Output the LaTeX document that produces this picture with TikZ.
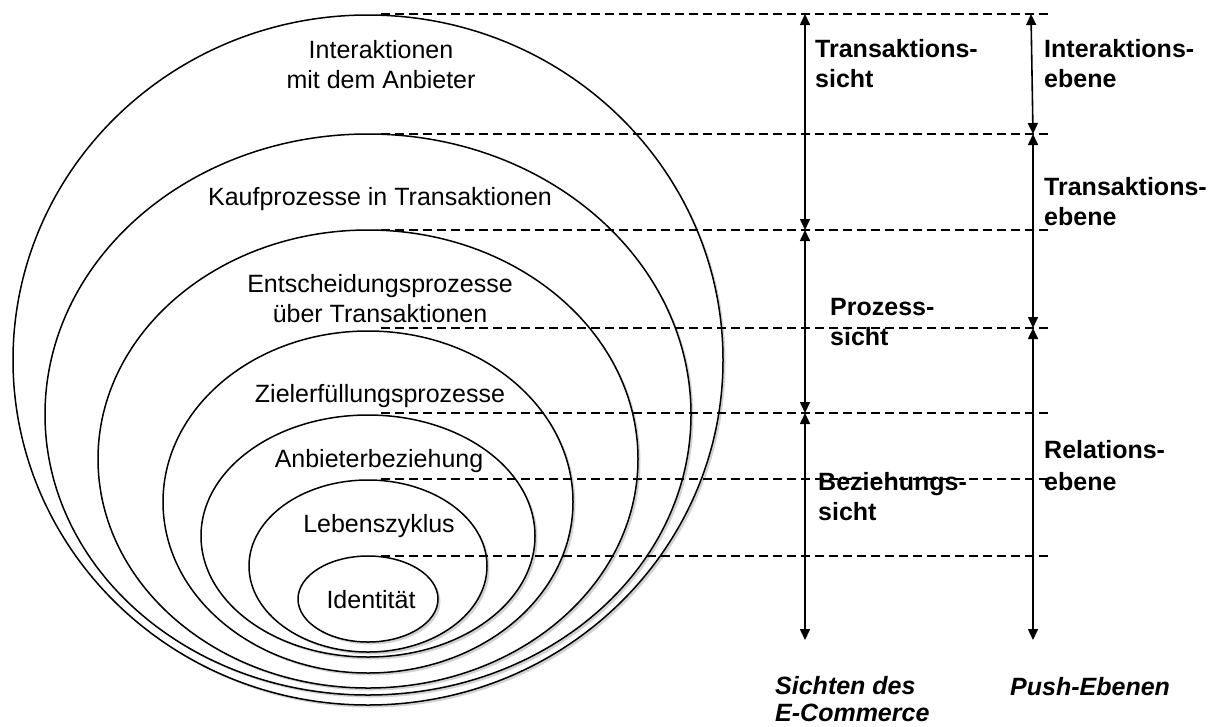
\documentclass[tikz,border=0pt]{standalone}
\usepackage{fontspec}
\setmainfont{Liberation Sans}
\usetikzlibrary{shapes.geometric,shadows,arrows.meta}

\begin{document}
\begin{tikzpicture}[x=1pt,y=-1pt,
  ring/.style={ellipse, draw=black, line width=1.5pt, fill=white, inner sep=0pt,
    drop shadow={shadow xshift=2.5pt, shadow yshift=-2.5pt, fill=black!35}},
  lvl/.style={font=\fontsize{25}{30}\selectfont, anchor=base, inner sep=0pt},
  tag/.style={font=\fontsize{25}{30}\selectfont\bfseries, anchor=base west, inner sep=0pt},
  foot/.style={font=\fontsize{25}{30}\selectfont\bfseries\itshape, anchor=base west, inner sep=0pt},
  guide/.style={line width=2.2pt, dash pattern=on 9pt off 5pt},
  span/.style={line width=1.6pt, {Triangle[length=11pt,width=10pt]}-{Triangle[length=11pt,width=10pt]}},
]
\useasboundingbox (0,0) rectangle (1214,726);

% nested layers, outermost first
\node[ring, minimum width=710pt, minimum height=690pt] (e1) at (368,360) {};
\node[ring, minimum width=646pt, minimum height=561pt] (e2) at (368,414.5) {};
\node[ring, minimum width=540pt, minimum height=458pt] (e3) at (368,459) {};
\node[ring, minimum width=410pt, minimum height=342pt] (e4) at (368,502) {};
\node[ring, minimum width=334pt, minimum height=242pt] (e5) at (368,536) {};
\node[ring, minimum width=238pt, minimum height=172pt] (e6) at (368,566) {};
\node[ring, minimum width=140pt, minimum height=86pt] (e7) at (368,599) {};

% layer captions
\node[lvl] (t1a) at (381,58) {Interaktionen};
\node[lvl] (t1b) at (381,88) {mit dem Anbieter};
\node[lvl] (t2) at (380,205) {Kaufprozesse in Transaktionen};
\node[lvl] (t3a) at (380,292) {Entscheidungsprozesse};
\node[lvl] (t3b) at (380,322) {über Transaktionen};
\node[lvl] (t4) at (380,402) {Zielerfüllungsprozesse};
\node[lvl] (t5) at (379,467) {Anbieterbeziehung};
\node[lvl] (t6) at (379,532) {Lebenszyklus};
\node[lvl] (t7) at (371,608) {Identität};

% horizontal guides from the top of each layer
\foreach \i/\y in {1/14,2/134,3/230,4/328,5/413,6/479,7/556}{
  \coordinate (gs\i) at (381,\y);
  \coordinate (ge\i) at (1051,\y);
  \draw[guide] (gs\i) -- (ge\i);
}

% views of e-commerce
\coordinate (a0) at (805,14);
\coordinate (a1) at (805,230);
\coordinate (a2) at (805,413);
\coordinate (a3) at (805,640);
\draw[span] (a0) -- (a1);
\draw[span] (a1) -- (a2);
\draw[span] (a2) -- (a3);

% push levels
\coordinate (b0) at (1031,14);
\coordinate (b1) at (1033,134);
\coordinate (b2) at (1033,328);
\coordinate (b3) at (1033,640);
\draw[span] (b0) -- (b1);
\draw[span] (b1) -- (b2);
\draw[span] (b2) -- (b3);

% labels of the views
\node[tag] (v1a) at (815,57) {Transaktions-};
\node[tag] (v1b) at (815,87) {sicht};
\node[tag] (v2a) at (830,315) {Prozess-};
\node[tag] (v2b) at (830,345) {sicht};
\node[tag] (v3a) at (818,490) {Beziehungs-};
\node[tag] (v3b) at (818,520) {sicht};

% labels of the push levels
\node[tag] (p1a) at (1044,57) {Interaktions-};
\node[tag] (p1b) at (1044,87) {ebene};
\node[tag] (p2a) at (1044,195) {Transaktions-};
\node[tag] (p2b) at (1044,225) {ebene};
\node[tag] (p3a) at (1044,458) {Relations-};
\node[tag] (p3b) at (1044,490) {ebene};

% column headings
\node[foot] (h1a) at (775,694) {Sichten des};
\node[foot] (h1b) at (775,721) {E-Commerce};
\node[foot] (h2) at (1010,695) {Push-Ebenen};
\end{tikzpicture}
\end{document}
